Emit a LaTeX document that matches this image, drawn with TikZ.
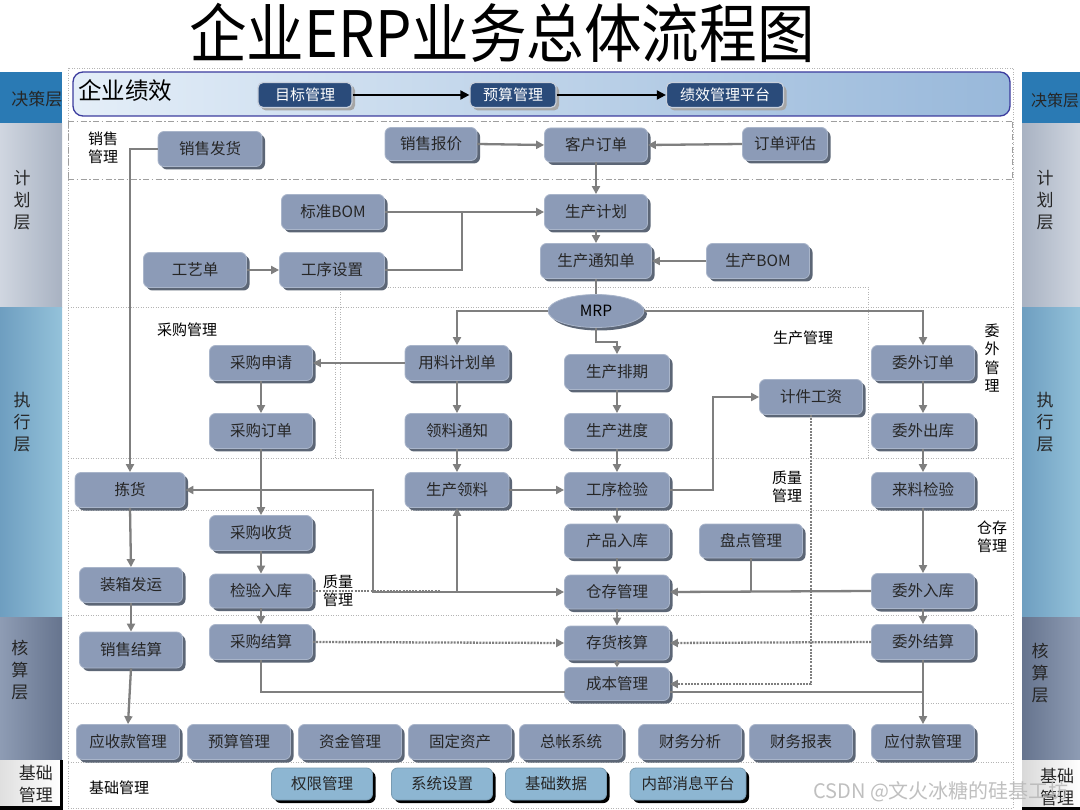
\documentclass[tikz,border=0pt]{standalone}
\usepackage{fontspec}
\setmainfont{Noto Sans CJK SC}
\usetikzlibrary{arrows.meta,shadows,shapes.geometric}
\definecolor{boxfill}{HTML}{8C9BB7}
\definecolor{boxedge}{HTML}{A9B5CA}
\definecolor{shadowc}{HTML}{5C6676}
\definecolor{linegray}{HTML}{7F7F7F}
\definecolor{navy}{HTML}{2A4B7A}
\definecolor{navyedge}{HTML}{C8D0DC}
\definecolor{basefill}{HTML}{8DB6D2}
\definecolor{areagray}{HTML}{B4B4B4}
\definecolor{decblue}{HTML}{2A7AB4}
\definecolor{planA}{HTML}{D0D6E0}
\definecolor{planB}{HTML}{A8B2C2}
\definecolor{execA}{HTML}{6E9EC0}
\definecolor{execB}{HTML}{94C2DA}
\definecolor{accA}{HTML}{8E9CB4}
\definecolor{accB}{HTML}{66748E}
\definecolor{bannerL}{HTML}{E4EEF8}
\definecolor{bannerR}{HTML}{98B8DA}
\definecolor{bannerE}{HTML}{3C3C9E}
\begin{document}
\begin{tikzpicture}[x=1pt,y=-1pt,
  boxbase/.style={rounded corners=6pt, fill=boxfill, draw=boxedge, line width=0.8pt,
    minimum width=103pt, minimum height=35pt, inner sep=0pt, text=black!85,
    font=\fontsize{15.5}{17}\selectfont},
  box/.style={boxbase, drop shadow={shadow xshift=3pt, shadow yshift=-3pt, fill=shadowc, opacity=1}},
  basebox/.style={boxbase, fill=basefill, draw=basefill!85!black, minimum height=32pt,
    drop shadow={shadow xshift=3pt, shadow yshift=-3pt, fill=black, opacity=1}},
  navybox/.style={rounded corners=5pt, fill=navy, draw=navyedge, line width=1.2pt,
    minimum height=25pt, inner sep=0pt, text=white, font=\fontsize{15}{17}\selectfont,
    drop shadow={shadow xshift=3pt, shadow yshift=-3pt, fill=gray!70, opacity=1}},
  conn/.style={draw=linegray, line width=2.3pt, -{Triangle[length=8pt,width=8pt]}},
  biconn/.style={draw=linegray, line width=2.3pt, {Triangle[length=8pt,width=8pt]}-{Triangle[length=8pt,width=8pt]}},
  plainline/.style={draw=linegray, line width=2.3pt},
  dotconn/.style={draw=linegray, line width=2.3pt, dash pattern=on 2pt off 1.2pt, -{Triangle[length=8pt,width=8pt]}},
  dotline/.style={draw=linegray, line width=2.3pt, dash pattern=on 2pt off 1.2pt},
  blkconn/.style={draw=black, line width=1.8pt, -{Triangle[length=9pt,width=9pt]}},
  area/.style={draw=areagray, line width=0.9pt, dash pattern=on 1pt off 1.5pt},
  dashdot/.style={draw=gray!75, line width=1pt, dash pattern=on 6pt off 2.5pt on 1.5pt off 2.5pt},
  lbl/.style={font=\fontsize{15}{18.5}\selectfont, align=center, inner sep=0pt, text=black},
  side/.style={font=\fontsize{17}{22}\selectfont, align=center, inner sep=0pt, text=black!85},
]
\useasboundingbox (0,0) rectangle (1080,810);
\fill[white] (0,0) rectangle (1080,810);

% ---------- side bars ----------
\fill[decblue] (0,72) rectangle (62,124);
\shade[left color=planA, right color=planB] (0,124) rectangle (62,308);
\shade[left color=execA, right color=execB] (0,308) rectangle (62,617);
\shade[left color=accA, right color=accB] (0,617) rectangle (62,760);
\shade[left color=gray!25, right color=white] (0,760) rectangle (60,806);
\fill[black] (60,760) rectangle (63,810);
\fill[black] (0,806) rectangle (63,810);

\fill[decblue] (1022,72) rectangle (1080,124);
\shade[left color=planB, right color=planA] (1022,124) rectangle (1080,308);
\shade[left color=execA, right color=execB] (1022,308) rectangle (1080,617);
\shade[left color=accB, right color=accA] (1022,617) rectangle (1080,760);
\shade[left color=gray!30, right color=white] (1022,760) rectangle (1080,810);
\fill[black] (1022,807) rectangle (1080,810);

\node[side] (sL1) at (37,99) {决策层};
\node[side] (sL2) at (22,200) {计\\划\\层};
\node[side] (sL3) at (22,422) {执\\行\\层};
\node[side] (sL4) at (20,670) {核\\算\\层};
\node[side] (sL5) at (36,784) {基础\\管理};
\node[side, anchor=west, font=\fontsize{16}{20}\selectfont] (sR1) at (1031,100) {决策层};
\node[side] (sR2) at (1045,200) {计\\划\\层};
\node[side] (sR3) at (1045,422) {执\\行\\层};
\node[side] (sR4) at (1040,673) {核\\算\\层};
\node[side] (sR5) at (1057,787) {基础\\管理};

% ---------- title ----------
\node[inner sep=0pt, font=\fontsize{64}{64}\selectfont] (title) at (502,33) {\scalebox{0.9}[1]{企业ERP业务总体流程图}};

% ---------- areas ----------
\draw[area] (68,68) rectangle (1013,808);
\draw[area] (68,307) -- (1013,307);
\draw[area] (340,287) -- (868,287);
\draw[area] (340,287) -- (340,458);
\draw[area] (335,307) -- (335,458);
\draw[area] (868,287) -- (868,458);
\draw[area] (68,458) -- (1013,458);
\draw[area] (68,510) -- (1013,510);
\draw[area] (68,615) -- (1013,615);
\draw[area] (68,703) -- (1013,703);
\draw[area] (68,762) -- (1013,762);
\draw[dashdot] (68,122) -- (1012,122);
\draw[dashdot] (68,180) -- (1012,180);
\draw[dashdot] (68,122) -- (68,180);
\draw[dashdot] (1012,122) -- (1012,180);

% ---------- banner ----------
\draw[rounded corners=10pt, left color=bannerL, right color=bannerR, draw=bannerE, line width=1.3pt] (73,72) rectangle (1010,116);
\node[inner sep=0pt, font=\fontsize{23.5}{24}\selectfont, anchor=west] (qyjx) at (78,91) {企业绩效};
\node[navybox, minimum width=94pt] (mbgl) at (305,95) {目标管理};
\node[navybox, minimum width=86pt] (ysgl0) at (513,95) {预算管理};
\node[navybox, minimum width=117pt] (jxpt) at (725,95) {绩效管理平台};
\draw[blkconn] (mbgl.east) -- (ysgl0.west);
\draw[blkconn] (ysgl0.east) -- (jxpt.west);

% ---------- labels ----------
\node[lbl] (l1) at (103,148) {销售\\管理};
\node[lbl] (l2) at (187,330) {采购管理};
\node[lbl] (l3) at (803,338) {生产管理};
\node[lbl] (l4) at (992,358) {委\\外\\管\\理};
\node[lbl] (l5) at (787,487) {质量\\管理};
\node[lbl] (l6) at (992,537) {仓存\\管理};
\node[lbl] (l7) at (338,591) {质量\\管理};
\node[lbl] (l8) at (119,788) {基础管理};

% ---------- nodes ----------
\node[box, minimum width=104pt] (xsfh) at (210,149) {销售发货};
\node[box, minimum width=92pt, minimum height=33pt] (xsbj) at (431,144) {销售报价};
\node[box, minimum height=34pt] (khdd) at (596,145) {客户订单};
\node[box, minimum width=85pt, minimum height=33pt] (ddpg) at (785,144) {订单评估};

\node[box] (bzbom) at (333,212) {标准BOM};
\node[box] (scjh) at (596,212) {生产计划};
\node[box] (gyd) at (195,270) {工艺单};
\node[box, minimum width=105pt] (gxsz) at (332,270) {工序设置};
\node[box, minimum width=111pt] (sctz) at (596,261) {生产通知单};
\node[box] (scbom) at (758,261) {生产BOM};
\node[ellipse, fill=boxfill, draw=boxedge, line width=0.8pt, minimum width=96pt, minimum height=33pt, inner sep=0pt, font=\fontsize{15.5}{17}\selectfont,
  drop shadow={shadow xshift=3pt, shadow yshift=-3pt, fill=shadowc, opacity=1}] (mrp) at (596,311) {MRP};

\node[box] (cgsq) at (261,363) {采购申请};
\node[box, minimum width=104pt] (ylj) at (457,363) {用料计划单};
\node[box, minimum width=105pt] (scpq) at (617,372) {生产排期};
\node[box] (jjgz) at (811,397) {计件工资};
\node[box] (wwdd) at (923,363) {委外订单};

\node[box] (cgdd) at (261,431) {采购订单};
\node[box, minimum width=104pt] (lltz) at (457,431) {领料通知};
\node[box, minimum width=105pt] (scjd) at (617,431) {生产进度};
\node[box] (wwck) at (923,431) {委外出库};

\node[box, minimum width=110pt] (jh) at (130,490) {拣货};
\node[box, minimum width=104pt] (scll) at (457,490) {生产领料};
\node[box, minimum width=105pt] (gxjy) at (617,490) {工序检验};
\node[box] (lljy) at (923,490) {来料检验};

\node[box] (cgsh) at (261,533) {采购收货};
\node[box, minimum width=105pt, minimum height=34pt] (cprk) at (617,541) {产品入库};
\node[box, minimum height=34pt] (pdgl) at (751,541) {盘点管理};

\node[box] (zxfy) at (131,585) {装箱发运};
\node[box, minimum height=34pt] (jyrk) at (261,591) {检验入库};
\node[box, minimum width=105pt, minimum height=34pt] (ccgl) at (617,592) {仓存管理};
\node[box] (wwrk) at (923,591) {委外入库};

\node[box, minimum height=36pt] (xsjs) at (131,650) {销售结算};
\node[box] (cgjs) at (261,642) {采购结算};
\node[box, minimum width=105pt, minimum height=34pt] (chhs) at (617,643) {存货核算};
\node[box] (wwjs) at (923,642) {委外结算};
\node[box, minimum width=105pt, minimum height=33pt] (cbgl) at (617,684) {成本管理};

\node[box] (ysk) at (128,742) {应收款管理};
\node[box] (ysgl) at (239,742) {预算管理};
\node[box] (zjgl) at (350,742) {资金管理};
\node[box] (gdzc) at (460,742) {固定资产};
\node[box] (zzxt) at (571,742) {总帐系统};
\node[box] (cwfx) at (690,742) {财务分析};
\node[box] (cwbb) at (801,742) {财务报表};
\node[box] (yfk) at (923,742) {应付款管理};

\node[basebox, minimum width=101pt] (qxgl) at (322,784) {权限管理};
\node[basebox, minimum width=101pt] (xtsz) at (442,784) {系统设置};
\node[basebox, minimum width=101pt] (jcsj) at (556,784) {基础数据};
\node[basebox, minimum width=116pt] (nbxx) at (688,784) {内部消息平台};

% ---------- helper coordinates ----------
\coordinate (j1) at (462,212);
\coordinate (k1) at (373,592);
\coordinate (k2) at (457,592);
\coordinate (k3) at (751,592);
\coordinate (k4) at (440,591);
\coordinate (c1) at (565,692);
\coordinate (c2) at (670,692);
\coordinate (c3) at (923,692);

% ---------- connectors ----------
\draw[conn] (xsbj.east) -- (khdd.west);
\draw[conn] (ddpg.west) -- (khdd.east);
\draw[conn] (khdd.south) -- (scjh.north);
\draw[conn] (bzbom.east) -- (scjh.west);
\draw[plainline] (gxsz.east) -| (j1);
\draw[conn] (gyd.east) -- (gxsz.west);
\draw[conn] (scjh.south) -- (sctz.north);
\draw[conn] (scbom.west) -- (sctz.east);
\draw[plainline] (sctz.south) -- (mrp.north);
\draw[conn] (mrp.west) -| (ylj.north);
\draw[conn] (mrp.east) -| (wwdd.north);
\draw[conn] (mrp.south) -- ++(0,14) -| (scpq.north);
\draw[conn] (ylj.west) -- (cgsq.east);
\draw[conn] (cgsq.south) -- (cgdd.north);
\draw[conn] (ylj.south) -- (lltz.north);
\draw[conn] (lltz.south) -- (scll.north);
\draw[conn] (scpq.south) -- (scjd.north);
\draw[conn] (scjd.south) -- (gxjy.north);
\draw[conn] (scll.east) -- (gxjy.west);
\draw[conn] (gxjy.east) -- ++(43,0) |- (jjgz.west);
\draw[conn] (wwdd.south) -- (wwck.north);
\draw[conn] (wwck.south) -- (lljy.north);
\draw[conn] (lljy.south) -- (wwrk.north);
\draw[conn] (xsfh.west) -| (jh.north);
\draw[conn] (jh.south) -- (zxfy.north);
\draw[conn] (zxfy.south) -- (xsjs.north);
\draw[conn] (xsjs.south) -- (ysk.north);
\draw[conn] (cgdd.south) -- (cgsh.north);
\draw[conn] (cgsh.south) -- (jyrk.north);
\draw[conn] (jyrk.south) -- (cgjs.north);
\draw[dotline] (jyrk.east) -- (k4);
\draw[biconn] (jh.east) -| (k1) -- (ccgl.west);
\draw[conn] (k2) -- (scll.south);
\draw[conn] (gxjy.south) -- (cprk.north);
\draw[conn] (cprk.south) -- (ccgl.north);
\draw[plainline] (pdgl.south) -- (k3);
\draw[conn] (wwrk.west) -- (ccgl.east);
\draw[conn] (ccgl.south) -- (chhs.north);
\draw[draw=linegray, line width=2pt, -{Triangle[length=5pt,width=6pt]}] (chhs.south) -- (cbgl.north);
\draw[dotconn] (cgjs.east) -- (chhs.west);
\draw[conn] (wwrk.south) -- (wwjs.north);
\draw[dotconn] (wwjs.west) -- (chhs.east);
\draw[dotconn] (jjgz.south) |- (cbgl.east);
\draw[plainline] (cgjs.south) |- (c1);
\draw[plainline] (c2) -- (c3);
\draw[conn] (wwjs.south) -- (yfk.north);

% ---------- watermark ----------
\node[inner sep=0pt, anchor=west, font=\fontsize{20}{20}\selectfont, text=gray!55, opacity=0.9] (wm) at (813,792) {CSDN @文火冰糖的硅基工坊};
\end{tikzpicture}
\end{document}
